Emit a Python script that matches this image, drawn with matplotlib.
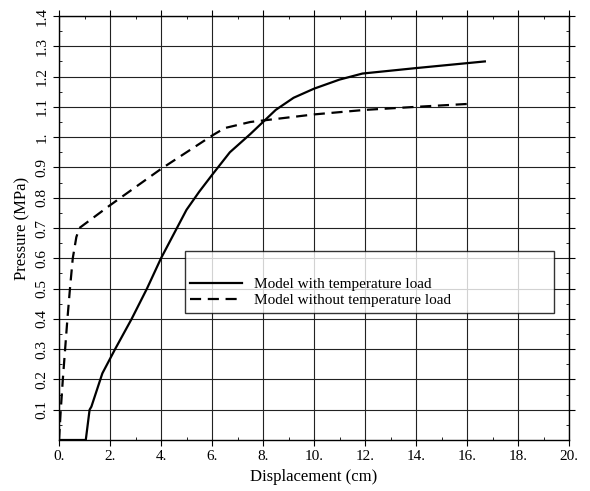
import matplotlib
matplotlib.use("Agg")
import matplotlib.pyplot as plt
from matplotlib.ticker import MultipleLocator, FixedLocator, FixedFormatter

# Data
with_temp_x = [0.0, 1.05, 1.2, 1.27, 1.7, 2.2, 2.85, 3.45, 4.0, 4.5, 5.0, 5.5, 6.0, 6.7, 7.5, 8.5, 9.2, 10.0, 11.0, 11.9, 14.0, 16.7]
with_temp_y = [0.0, 0.0, 0.1, 0.11, 0.22, 0.3, 0.4, 0.5, 0.6, 0.68, 0.76, 0.82, 0.875, 0.95, 1.01, 1.09, 1.13, 1.16, 1.19, 1.21, 1.228, 1.25]

without_temp_x = [0.0, 0.07, 0.15, 0.24, 0.33, 0.43, 0.54, 0.68, 0.8, 2.0, 4.0, 6.0, 6.5, 7.5, 8.0, 10.0, 12.0, 14.0, 16.1]
without_temp_y = [0.0, 0.1, 0.2, 0.3, 0.4, 0.5, 0.6, 0.67, 0.7, 0.775, 0.895, 1.005, 1.03, 1.05, 1.055, 1.075, 1.09, 1.1, 1.11]

x_ticks = [0, 2, 4, 6, 8, 10, 12, 14, 16, 18, 20]
x_labels = ["0.", "2.", "4.", "6.", "8.", "10.", "12.", "14.", "16.", "18.", "20."]
y_ticks = [0.1, 0.2, 0.3, 0.4, 0.5, 0.6, 0.7, 0.8, 0.9, 1.0, 1.1, 1.2, 1.3, 1.4]
y_labels = ["0.1", "0.2", "0.3", "0.4", "0.5", "0.6", "0.7", "0.8", "0.9", "1.", "1.1", "1.2", "1.3", "1.4"]

plt.rcParams['font.family'] = ['Liberation Serif', 'DejaVu Serif']

fig = plt.figure(figsize=(5.9, 4.91), dpi=100)
ax = fig.add_axes([59/590, 1-440/491, 510/590, 424/491])

ax.plot(with_temp_x, with_temp_y, color='black', lw=1.6, label='Model with temperature load')
ax.plot(without_temp_x, without_temp_y, color='black', lw=1.6, ls=(0, (5, 3)), label='Model without temperature load')

ax.set_xlim(0, 20)
ax.set_ylim(0, 1.4)
ax.xaxis.set_major_locator(FixedLocator(x_ticks))
ax.xaxis.set_major_formatter(FixedFormatter(x_labels))
ax.yaxis.set_major_locator(FixedLocator(y_ticks))
ax.yaxis.set_major_formatter(FixedFormatter(y_labels))
ax.xaxis.set_minor_locator(MultipleLocator(1))
ax.yaxis.set_minor_locator(MultipleLocator(0.05))

ax.grid(True, which='major', color='#222222', lw=0.8)
ax.tick_params(which='major', direction='out', length=4, width=0.8, top=True, right=True, labelsize=11)
ax.tick_params(which='minor', direction='in', length=2.5, width=0.6, top=True, right=True)
for lab in ax.get_yticklabels():
    lab.set_rotation(90)
    lab.set_va('center')
for s in ax.spines.values():
    s.set_linewidth(1.0)

ax.set_xlabel('Displacement (cm)', fontsize=12)
ax.set_ylabel('Pressure (MPa)', fontsize=12)

leg = ax.legend(loc='lower left', bbox_to_anchor=(0.247, 0.3, 0.724, 0.146), mode='expand',
                borderaxespad=0.0,
                frameon=True, fancybox=False, edgecolor='black', fontsize=11,
                title=' ', title_fontsize=16, borderpad=0.35, labelspacing=0.15,
                handlelength=3.4, handletextpad=0.8)
leg.get_frame().set_linewidth(1.0)
leg._legend_box.align = 'left'

fig.savefig('out.png', dpi=100)
